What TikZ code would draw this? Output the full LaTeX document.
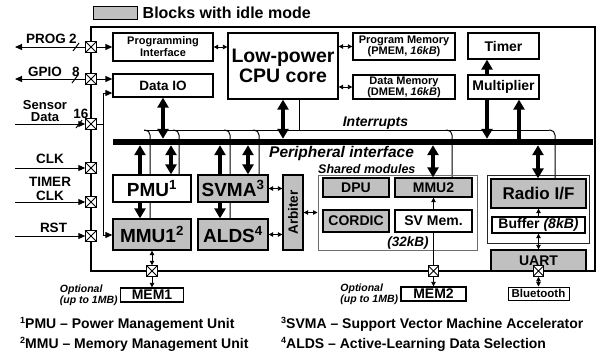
\documentclass[tikz,border=0pt]{standalone}
\usepackage{fontspec}
\setmainfont{Liberation Sans}
\usetikzlibrary{arrows.meta}
\pgfdeclarelayer{bg}
\pgfsetlayers{bg,main}
\definecolor{idle}{RGB}{192,192,192}
\definecolor{framegray}{RGB}{110,110,110}
\newcommand{\fs}[2]{\fontsize{#1}{#2}\selectfont\bfseries}
\tikzset{
  box/.style={draw, line width=1.3pt, fill=white, inner sep=0pt, align=center},
  idlebox/.style={box, fill=idle},
  padbox/.style={draw, line width=1pt, fill=white, minimum size=10.5pt, inner sep=0pt,
    path picture={\draw[line width=0.8pt] (path picture bounding box.north west) -- (path picture bounding box.south east)
      (path picture bounding box.south west) -- (path picture bounding box.north east);}},
  tha/.style={line width=3.5pt, -{Triangle[width=11pt,length=10pt]}},
  thd/.style={line width=3.5pt, {Triangle[width=11pt,length=10pt]}-{Triangle[width=11pt,length=10pt]}},
  sma/.style={line width=0.8pt, -{Triangle[width=4.5pt,length=4.5pt]}},
  smd/.style={line width=0.8pt, {Triangle[width=4.5pt,length=4.5pt]}-{Triangle[width=4.5pt,length=4.5pt]}},
  meda/.style={line width=1pt, -{Triangle[width=6pt,length=7pt]}},
  wire/.style={line width=1pt},
  intr/.style={line width=1pt, rounded corners=5pt},
  lbl/.style={inner sep=0pt, align=center},
  fnote/.style={lbl, anchor=base west, font=\fs{14}{15}},
}
\newcommand{\fsup}[1]{\raisebox{0.35em}{\fontsize{9}{9}\selectfont #1}}
\begin{document}
\begin{tikzpicture}[x=1pt,y=-1pt]
\useasboundingbox (0,0) rectangle (600,354);
\foreach \v in {103,140,150,163,171,179,220,230,248,259,283,299,433,452,487,519,538,555}
  \coordinate (x\v) at (\v,0);

% legend
\node[idlebox, line width=1pt, minimum width=44pt, minimum height=13pt] (leg) at (115,12.5) {};
\node[lbl, anchor=west, font=\fs{16}{16}] (legt) at ([xshift=5pt]leg.east) {Blocks with idle mode};

% chip outline
\node[draw, line width=1.5pt, minimum width=504pt, minimum height=244pt, inner sep=0pt] (chip) at (343,149) {};

% boxes
\node[box, minimum width=100pt, minimum height=28pt, font=\fs{11}{12}] (pi) at (163,47) {Programming\\Interface};
\node[box, minimum width=100pt, minimum height=23pt, font=\fs{13.5}{14}] (dio) at (163,85.5) {Data IO};
\node[box, minimum width=110pt, minimum height=66pt, font=\fs{19.5}{20}] (cpu) at (283,66) {Low-power\\CPU core};
\node[box, minimum width=102pt, minimum height=27pt, font=\fs{11}{11.5}] (pmem) at (404,46.5) {Program Memory\\(PMEM, \textit{16kB})};
\node[box, minimum width=102pt, minimum height=24pt, font=\fs{11}{11}] (dmem) at (404,87) {Data Memory\\(DMEM, \textit{16kB})};
\node[box, minimum width=71pt, minimum height=26pt, font=\fs{14}{14}] (timer) at (503.5,46) {Timer};
\node[box, minimum width=71pt, minimum height=24pt, font=\fs{14}{14}] (mult) at (503.5,87) {Multiplier};
\node[fill=black, minimum width=480pt, minimum height=6pt, inner sep=0pt] (bus) at (353,142) {};
\node[box, minimum width=78pt, minimum height=27pt, font=\fs{19}{19}] (pmu) at (152,188.5) {PMU\textsuperscript{1}};
\node[idlebox, minimum width=78pt, minimum height=31pt, font=\fs{19}{19}] (mmu1) at (152,234.5) {MMU1\textsuperscript{2}};
\node[idlebox, minimum width=70pt, minimum height=27pt, font=\fs{19}{19}] (svma) at (233,188.5) {SVMA\textsuperscript{3}};
\node[idlebox, minimum width=70pt, minimum height=31pt, font=\fs{19}{19}] (alds) at (233,234.5) {ALDS\textsuperscript{4}};
\node[idlebox, minimum width=20pt, minimum height=75pt, font=\fs{13.5}{14}] (arb) at (293,212.5) {\rotatebox{90}{Arbiter}};
\node[draw=framegray, line width=1pt, minimum width=159pt, minimum height=75pt, inner sep=0pt] (shared) at (397.5,212.5) {};
\node[idlebox, minimum width=66pt, minimum height=19pt, font=\fs{14}{14}] (dpu) at (356,187.5) {DPU};
\node[idlebox, minimum width=66pt, minimum height=22pt, font=\fs{14}{14}] (cordic) at (356,221) {CORDIC};
\node[idlebox, minimum width=77pt, minimum height=19pt, font=\fs{14}{14}] (mmu2) at (433.5,187.5) {MMU2};
\node[box, minimum width=77pt, minimum height=22pt, font=\fs{14}{14}] (svmem) at (433.5,221) {SV Mem.};
\node[draw=black!85, line width=0.9pt, minimum width=102pt, minimum height=68pt, inner sep=0pt] (rgrp) at (538.5,209) {};
\node[idlebox, minimum width=95pt, minimum height=29pt, font=\fs{17}{17}] (radio) at (538.5,193.5) {Radio I/F};
\node[box, minimum width=93pt, minimum height=16pt, font=\fs{14}{14}] (buf) at (538.5,225) {Buffer \textit{(8kB)}};
\node[idlebox, minimum width=95pt, minimum height=21pt, font=\fs{14}{14}] (uart) at (538.5,260.5) {UART};

% pads
\node[padbox] (pprog) at (91,47) {};
\node[padbox] (pgpio) at (91,79) {};
\node[padbox] (psens) at (91,124) {};
\node[padbox] (pclk) at (91,168) {};
\node[padbox] (ptclk) at (91,202) {};
\node[padbox] (prst) at (91,236) {};
\node[padbox] (pm1) at (152,271) {};
\node[padbox] (pm2) at (433.5,271) {};
\node[padbox] (pu) at (538.5,271) {};

% external memories
\node[box, minimum width=63pt, minimum height=14pt, font=\fs{14}{14}] (mem1) at (152,295) {MEM1};
\node[box, minimum width=65pt, minimum height=14pt, font=\fs{14}{14}] (mem2) at (433.5,294) {MEM2};
\node[box, line width=1pt, minimum width=61pt, minimum height=13pt, font=\fs{11.5}{12}] (bt) at (538.5,293.5) {Bluetooth};
\node[lbl, anchor=east, align=left, font=\fs{10.5}{9.5}\itshape] (opt1) at ([xshift=-2pt]mem1.west) {Optional\\(up to 1MB)};
\node[lbl, anchor=east, align=left, font=\fs{10.5}{9.5}\itshape] (opt2) at ([xshift=-2pt]mem2.west) {Optional\\(up to 1MB)};

% interrupts (behind)
\coordinate (ir0) at (144,130);
\coordinate (ir1) at (549,130);
\coordinate (d179) at (173,130);
\coordinate (d230) at (224,130);
\coordinate (d259) at (253,130);
\coordinate (d452) at (446,130);
\begin{pgfonlayer}{bg}
\draw[wire] (ir0) -- (ir1);
\draw[intr] (ir0) -| (x150 |- mmu1.north);
\draw[intr] (d179) -| (x179 |- pmu.north);
\draw[intr] (d230) -| (x230 |- alds.north);
\draw[intr] (d259) -| (x259 |- svma.north);
\draw[intr] (d452) -| (x452 |- mmu2.north);
\draw[intr] (ir1) -| (x555 |- radio.north);
\draw[wire] (x299 |- cpu.south) -- (x299 |- ir0);
\end{pgfonlayer}

% thick arrows
\draw[thd] (x163 |- dio.south) -- (x163 |- bus.north);
\draw[thd] (x283 |- cpu.south) -- (x283 |- bus.north);
\draw[tha] (x487 |- mult.south) -- (x487 |- bus.north);
\draw[tha] (x487 |- mult.north) -- (x487 |- timer.south);
\draw[tha] (x519 |- bus.north) -- (x519 |- mult.south);
\draw[tha] (x140 |- pmu.north) -- (x140 |- bus.south);
\draw[thd] (x171 |- bus.south) -- (x171 |- pmu.north);
\draw[tha] (x140 |- pmu.south) -- (x140 |- mmu1.north);
\draw[tha] (x220 |- svma.north) -- (x220 |- bus.south);
\draw[thd] (x248 |- bus.south) -- (x248 |- svma.north);
\draw[tha] (x220 |- svma.south) -- (x220 |- alds.north);
\draw[thd] (x433 |- bus.south) -- (x433 |- mmu2.north);
\draw[thd] (x538 |- bus.south) -- (x538 |- radio.north);

% small arrows
\draw[smd] (pi.east) -- (cpu.west |- pi.east);
\draw[smd] (cpu.east |- pmem.west) -- (pmem.west);
\draw[smd] (cpu.east |- dmem.west) -- (dmem.west);
\draw[smd] (svma.east) -- (arb.west |- svma.east);
\draw[smd] (alds.east) -- (arb.west |- alds.east);
\draw[smd] (arb.east) -- (shared.west |- arb.east);
\draw[sma] (svmem.north) -- (mmu2.south);
\draw[sma] (buf.north) -- (radio.south);
\draw[smd] (buf.south) -- (uart.north);
\draw[smd] (mmu1.south) -- (pm1.north);
\draw[sma] (pm1.south) -- (mem1.north);
\draw[wire] (svmem.south) -- (pm2.north);
\draw[sma] (pm2.south) -- (mem2.north);
\draw[smd] (pu.south) -- (pu.south |- bt.north);

% left side I/O
\coordinate (lprog) at (15,47);
\coordinate (lgpio) at (15,79);
\coordinate (lsens) at (15,124);
\coordinate (lclk) at (15,168);
\coordinate (ltclk) at (15,202);
\coordinate (lrst) at (15,236);
\draw[meda] (pprog.west) -- (lprog);
\draw[meda] (pprog.east) -- (pi.west);
\draw[meda] (pgpio.west) -- (lgpio);
\draw[meda] (pgpio.east) -- (dio.west |- pgpio.east);
\draw[meda] (lsens) -- (psens.west);
\draw[wire] (psens.east) -- (x103 |- psens.east);
\coordinate (s1) at (103,93);
\coordinate (s2) at (103,235);
\draw[wire] (s1) -- (s2);
\draw[meda] (s1) -- (dio.west |- s1);
\draw[meda] (s2) -- (mmu1.west |- s2);
\draw[meda] (lclk) -- (pclk.west);
\draw[meda] (ltclk) -- (ptclk.west);
\draw[meda] (lrst) -- (prst.west);
% bus width slashes
\draw[wire] (73,51) -- (79,43);
\draw[wire] (72,83) -- (78,75);
\draw[wire] (76,128) -- (82,120);

% left labels
\node[lbl, anchor=base, font=\fs{13.5}{14}] (tprog) at (46,43) {PROG};
\node[lbl, anchor=base, font=\fs{13.5}{14}] (tprogn) at (73,43) {2};
\node[lbl, anchor=base, font=\fs{13.5}{14}] (tgpio) at (45,76) {GPIO};
\node[lbl, anchor=base, font=\fs{13.5}{14}] (tgpion) at (76,76) {8};
\node[lbl, font=\fs{13}{11.5}] (tsens) at (45,111) {Sensor\\Data};
\node[lbl, anchor=base, font=\fs{13.5}{14}] (tsensn) at (81,118) {16};
\node[lbl, anchor=base, font=\fs{13.5}{14}] (tclk) at (50,163) {CLK};
\node[lbl, font=\fs{13.5}{13.5}] (ttim) at (50,189) {TIMER\\CLK};
\node[lbl, anchor=base, font=\fs{13.5}{14}] (trst) at (53.5,232) {RST};

% other labels
\node[lbl, anchor=base, font=\fs{14}{14}\itshape] (tintr) at (375.5,126.5) {Interrupts};
\node[lbl, anchor=base west, font=\fs{15.5}{16}\itshape] (tperi) at (269,157) {Peripheral interface};
\node[lbl, anchor=base west, font=\fs{12.5}{13}\itshape] (tshared) at (318,173) {Shared modules};
\node[lbl, anchor=base, font=\fs{13.5}{14}\itshape] (t32) at (408,246) {(32kB)};

% footnotes
\node[fnote] (fn1) at (20,328) {\fsup{1}PMU \textendash{} Power Management Unit};
\node[fnote] (fn2) at (20,348) {\fsup{2}MMU \textendash{} Memory Management Unit};
\node[fnote] (fn3) at (281,328) {\fsup{3}SVMA \textendash{} Support Vector Machine Accelerator};
\node[fnote] (fn4) at (281,348) {\fsup{4}ALDS \textendash{} Active-Learning Data Selection};
\end{tikzpicture}
\end{document}
